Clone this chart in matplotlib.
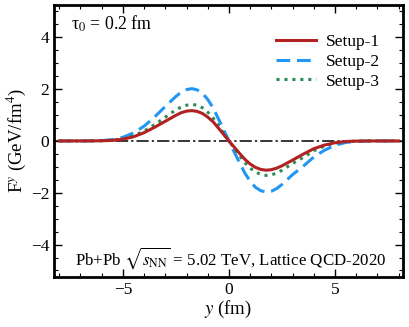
import matplotlib
matplotlib.use("Agg")
import matplotlib.pyplot as plt

plt.rcParams['font.family'] = ['Liberation Serif', 'DejaVu Serif']
plt.rcParams['mathtext.fontset'] = 'stix'

x_left = [-8, -7, -6.5, -6, -5.5, -5, -4.5, -4, -3.5, -3, -2.5, -2.25, -2, -1.75,
          -1.5, -1.25, -1, -0.75, -0.5, -0.25, 0]
x_right = [0.25, 0.5, 0.75, 1, 1.25, 1.5, 1.75, 2, 2.25, 2.5, 3, 3.5, 4, 4.5, 5,
           5.5, 6, 6.5, 7, 8]
y_vals = x_left + x_right

setup1 = [0, 0, 0.002, 0.007, 0.02, 0.07, 0.16, 0.32, 0.53, 0.76, 0.99, 1.09, 1.15, 1.17,
          1.14, 1.06, 0.92, 0.74, 0.50, 0.25, 0,
          -0.24, -0.48, -0.71, -0.89, -1.02, -1.10, -1.13, -1.11, -1.05, -0.96, -0.74,
          -0.51, -0.30, -0.16, -0.07, -0.02, -0.007, -0.002, 0, 0]
setup2 = [0, 0, 0.004, 0.014, 0.05, 0.14, 0.31, 0.57, 0.93, 1.33, 1.72, 1.88, 1.98, 2.02,
          1.97, 1.84, 1.60, 1.28, 0.86, 0.43, 0,
          -0.43, -0.84, -1.24, -1.56, -1.79, -1.92, -1.97, -1.94, -1.84, -1.68, -1.30,
          -0.98, -0.62, -0.36, -0.17, -0.06, -0.016, -0.004, 0, 0]
setup3 = [0, 0, 0.003, 0.009, 0.03, 0.08, 0.20, 0.38, 0.63, 0.92, 1.20, 1.31, 1.38, 1.41,
          1.38, 1.28, 1.11, 0.89, 0.60, 0.30, 0,
          -0.29, -0.57, -0.84, -1.05, -1.20, -1.29, -1.33, -1.31, -1.24, -1.13, -0.87,
          -0.64, -0.38, -0.20, -0.08, -0.03, -0.008, -0.002, 0, 0]
labels = ["Setup-1", "Setup-2", "Setup-3"]

fig = plt.figure(figsize=(4.09, 3.27), dpi=100)
ax = fig.add_axes([0.132, 0.153, 0.853, 0.832])

ax.axhline(0, color='black', lw=1.1, dashes=(8, 2, 1.5, 2), zorder=1)
ax.plot(y_vals, setup1, color='#b22222', lw=2.2, label=labels[0], zorder=3)
ax.plot(y_vals, setup2, color='#2196f3', lw=2.2, dashes=(4.5, 2.2), label=labels[1], zorder=2)
ax.plot(y_vals, setup3, color='#2e8b57', lw=2.2, dashes=(1, 1.6), label=labels[2], zorder=2)

ax.set_xlim(-8.25, 8.2)
ax.set_ylim(-5.25, 5.25)
ax.set_xticks([-5, 0, 5])
ax.set_xticklabels(['\u22125', '0', '5'])
ax.set_yticks([-4, -2, 0, 2, 4])
ax.set_yticklabels(['\u22124', '\u22122', '0', '2', '4'])
ax.set_xticks(range(-8, 9), minor=True)
ax.set_yticks([v * 0.5 for v in range(-10, 11)], minor=True)
ax.tick_params(which='both', direction='in', top=True, right=True, labelsize=12.5)
ax.tick_params(which='major', length=6, width=1)
ax.tick_params(which='minor', length=3, width=0.8)
for s in ax.spines.values():
    s.set_linewidth(2)

ax.set_xlabel(r'$y$ (fm)', fontsize=13.5, labelpad=1)
ax.set_ylabel(r'F$^y$ (GeV/fm$^4$)', fontsize=13.5, labelpad=2)

ax.text(0.05, 0.93, '\u03c4$_0$ = 0.2 fm', transform=ax.transAxes, fontsize=12.8,
        ha='left', va='center')
ax.text(0.505, 0.07, r'Pb+Pb $\sqrt{s_{\rm NN}}$ = 5.02 TeV, Lattice QCD-2020',
        transform=ax.transAxes, fontsize=12.2, ha='center', va='center')

ax.legend(loc='upper right', frameon=False, fontsize=12.5, handlelength=2.3,
          handletextpad=0.6, bbox_to_anchor=(0.98, 0.95), labelspacing=0.2)

fig.savefig('out.png', dpi=100)
